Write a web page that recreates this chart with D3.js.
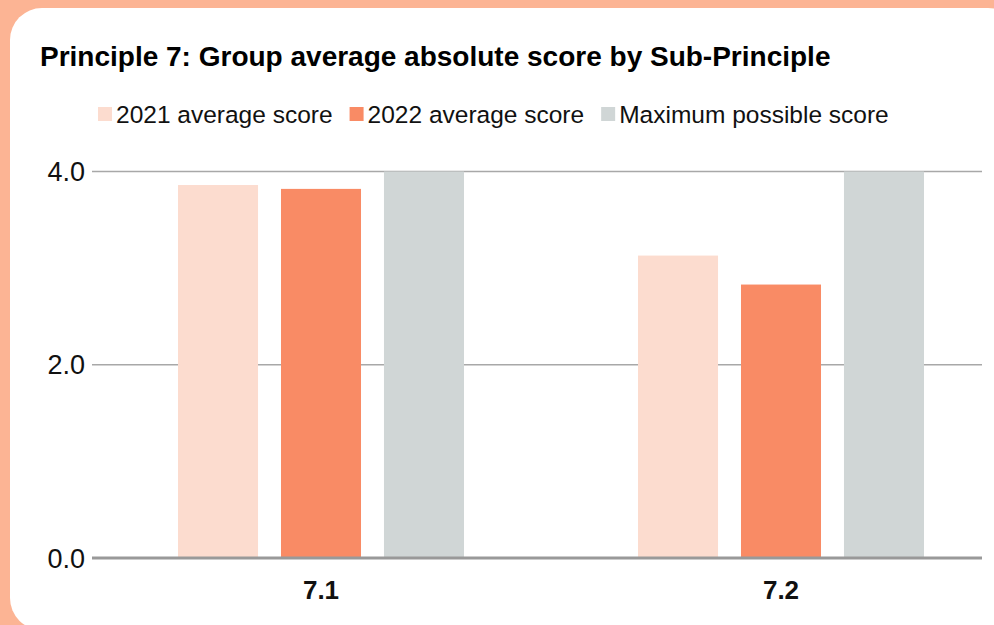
<!DOCTYPE html>
<html>
<head>
<meta charset="utf-8">
<script src="https://cdn.jsdelivr.net/npm/d3@7"></script>
<style>
  body { margin: 0; background: #fcb494; }
  svg { display: block; font-family: "Liberation Sans", Arial, Helvetica, sans-serif; }
</style>
</head>
<body>
<svg id="chart" width="994" height="625"></svg>
<script>
const subPrinciples = ["7.1", "7.2"];
const seriesNames = ["2021 average score", "2022 average score", "Maximum possible score"];
const scores2021 = [3.86, 3.13];
const scores2022 = [3.82, 2.83];
const maxScores = [4.0, 4.0];
const yTicks = [0, 2, 4];
const colors = ["#fcdccf", "#f98b65", "#d0d6d6"];

const seriesValues = [scores2021, scores2022, maxScores];

const svg = d3.select("#chart");

// white card
svg.append("rect")
  .attr("x", 10).attr("y", 8)
  .attr("width", 1010).attr("height", 622)
  .attr("rx", 32)
  .attr("fill", "#fff");

svg.append("text")
  .attr("x", 40).attr("y", 66)
  .attr("font-size", 28)
  .attr("font-weight", "bold")
  .attr("fill", "#000")
  .text("Principle 7: Group average absolute score by Sub-Principle");

// legend
let lx = 98;
seriesNames.forEach((name, i) => {
  svg.append("rect")
    .attr("x", lx).attr("y", 107)
    .attr("width", 14).attr("height", 14)
    .attr("fill", colors[i]);
  const t = svg.append("text")
    .attr("x", lx + 18).attr("y", 123)
    .attr("font-size", 24.5)
    .attr("fill", "#111")
    .text(name);
  lx += 18 + t.node().getComputedTextLength() + 17;
});

const y = d3.scaleLinear().domain([0, 4]).range([558, 171.5]);

const x0 = d3.scaleBand()
  .domain(subPrinciples)
  .range([91, 1011]);

const x1 = d3.scaleBand()
  .domain(seriesNames)
  .range([0, x0.bandwidth()])
  .paddingInner(0.223)
  .paddingOuter(0.845);

// gridlines
svg.append("g")
  .selectAll("line")
  .data(yTicks.filter(d => d > 0))
  .join("line")
  .attr("x1", 92).attr("x2", 982)
  .attr("y1", d => y(d)).attr("y2", d => y(d))
  .attr("stroke", "#a8a8a8")
  .attr("stroke-width", 1.5);

// y labels
svg.append("g")
  .selectAll("text")
  .data(yTicks)
  .join("text")
  .attr("x", 85)
  .attr("y", d => y(d))
  .attr("dy", "0.36em")
  .attr("text-anchor", "end")
  .attr("font-size", 27)
  .attr("fill", "#111")
  .text(d => d.toFixed(1));

// bars
const groups = svg.append("g")
  .selectAll("g")
  .data(subPrinciples)
  .join("g")
  .attr("transform", d => `translate(${x0(d)},0)`);

groups.selectAll("rect")
  .data((d, gi) => seriesNames.map((s, si) => ({ s, v: seriesValues[si][gi], c: colors[si] })))
  .join("rect")
  .attr("x", d => x1(d.s))
  .attr("y", d => y(d.v))
  .attr("width", x1.bandwidth())
  .attr("height", d => y(0) - y(d.v))
  .attr("fill", d => d.c);

// baseline
svg.append("line")
  .attr("x1", 92).attr("x2", 982)
  .attr("y1", y(0)).attr("y2", y(0))
  .attr("stroke", "#999")
  .attr("stroke-width", 3);

// x labels
svg.append("g")
  .selectAll("text")
  .data(subPrinciples)
  .join("text")
  .attr("x", d => x0(d) + x0.bandwidth() / 2)
  .attr("y", 599)
  .attr("text-anchor", "middle")
  .attr("font-size", 26)
  .attr("font-weight", "bold")
  .attr("fill", "#111")
  .text(d => d);
</script>
</body>
</html>
